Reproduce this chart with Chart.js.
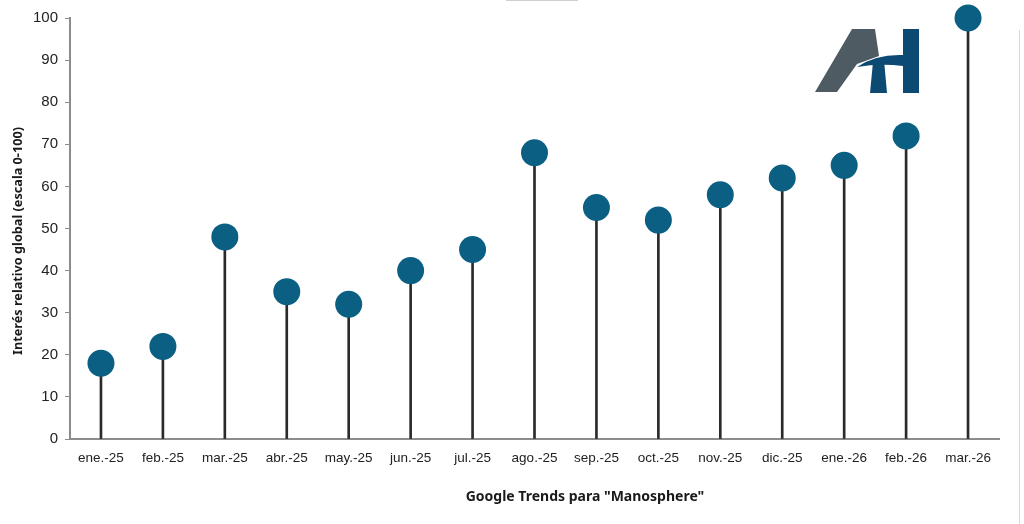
<!DOCTYPE html>
<html><head><meta charset="utf-8">
<script src="https://cdn.jsdelivr.net/npm/chart.js@4/dist/chart.umd.min.js"></script>
<style>html,body{margin:0;padding:0;background:#fff}#wrap{width:1024px;height:524px;position:relative}</style>
</head><body><div id="wrap"><canvas id="c" width="1024" height="524"></canvas></div>
<script>
const categories = ["ene.-25","feb.-25","mar.-25","abr.-25","may.-25","jun.-25","jul.-25","ago.-25","sep.-25","oct.-25","nov.-25","dic.-25","ene.-26","feb.-26","mar.-26"];
const interest = [18,22,48,35,32,40,45,68,55,52,58,62,65,72,100];
const yTicks = [0,10,20,30,40,50,60,70,80,90,100];
const xTitle = 'Google Trends para "Manosphere"';
const yTitle = 'Interés relativo global (escala 0-100)';

const extras = {
  id: 'extras',
  afterDraw(chart) {
    const ctx = chart.ctx;
    ctx.save();
    ctx.fillStyle = '#1a1a1a';
    ctx.textAlign = 'center';
    ctx.textBaseline = 'middle';
    ctx.font = 'bold 14px "Noto Sans", sans-serif';
    ctx.fillText(xTitle, 585, 497);
    ctx.save();
    ctx.translate(18, 241);
    ctx.rotate(-Math.PI / 2);
    ctx.font = 'bold 12.7px "Noto Sans", sans-serif';
    ctx.fillText(yTitle, 0, 0);
    ctx.restore();
    // faint decorations
    ctx.strokeStyle = '#d8d8d8';
    ctx.lineWidth = 1;
    ctx.beginPath(); ctx.moveTo(1019.5, 30); ctx.lineTo(1019.5, 524); ctx.stroke();
    ctx.strokeStyle = '#cfcfcf';
    ctx.beginPath(); ctx.moveTo(506, 0.5); ctx.lineTo(578, 0.5); ctx.stroke();
    // logo: gray A
    ctx.fillStyle = '#4f5b63';
    ctx.beginPath();
    ctx.moveTo(815, 92); ctx.lineTo(837, 92); ctx.lineTo(857, 64);
    ctx.lineTo(879, 56); ctx.lineTo(875, 29); ctx.lineTo(852, 29);
    ctx.closePath(); ctx.fill();
    // logo: blue H
    ctx.fillStyle = '#0d4a73';
    ctx.fillRect(903, 29, 16, 64);
    ctx.beginPath();
    ctx.moveTo(873, 62); ctx.lineTo(884, 60); ctx.lineTo(887, 93); ctx.lineTo(870, 93);
    ctx.closePath(); ctx.fill();
    ctx.beginPath();
    ctx.moveTo(857, 67);
    ctx.quadraticCurveTo(876, 54, 903, 55);
    ctx.lineTo(903, 66);
    ctx.quadraticCurveTo(880, 63, 857, 67);
    ctx.closePath(); ctx.fill();
    ctx.restore();
  }
};

new Chart(document.getElementById('c'), {
  type: 'bar',
  data: {
    labels: categories,
    datasets: [
      { type: 'line', data: interest, showLine: false, pointRadius: 13.5, pointHoverRadius: 13.5, clip: false,
        pointBackgroundColor: '#0b5f82', pointBorderWidth: 0, borderColor: '#0b5f82', order: 0 },
      { type: 'bar', data: interest, backgroundColor: '#2a2a2a', barThickness: 2, order: 1 }
    ]
  },
  plugins: [extras],
  options: {
    responsive: false,
    animation: false,
    devicePixelRatio: 1,
    layout: { padding: { top: 18, right: 25, left: 0, bottom: 0 } },
    plugins: { legend: { display: false }, tooltip: { enabled: false } },
    scales: {
      x: {
        offset: true,
        grid: { display: false, drawTicks: false },
        border: { color: '#8c8c8c', width: 2 },
        ticks: { color: '#222', font: { family: '"Liberation Sans", Arial, sans-serif', size: 13.5 }, padding: 11, maxRotation: 0, autoSkip: false },
        afterFit(s) { s.height = 85; }
      },
      y: {
        min: 0, max: 100,
        afterBuildTicks(s) { s.ticks = yTicks.map(v => ({ value: v })); },
        grid: { drawOnChartArea: false, drawTicks: true, tickLength: 5, color: '#8c8c8c', lineWidth: 1 },
        border: { color: '#8c8c8c', width: 2 },
        ticks: { color: '#222', font: { family: '"Liberation Sans", Arial, sans-serif', size: 15 }, padding: 7 },
        afterFit(s) { s.width = 70; }
      }
    }
  }
});
</script></body></html>
